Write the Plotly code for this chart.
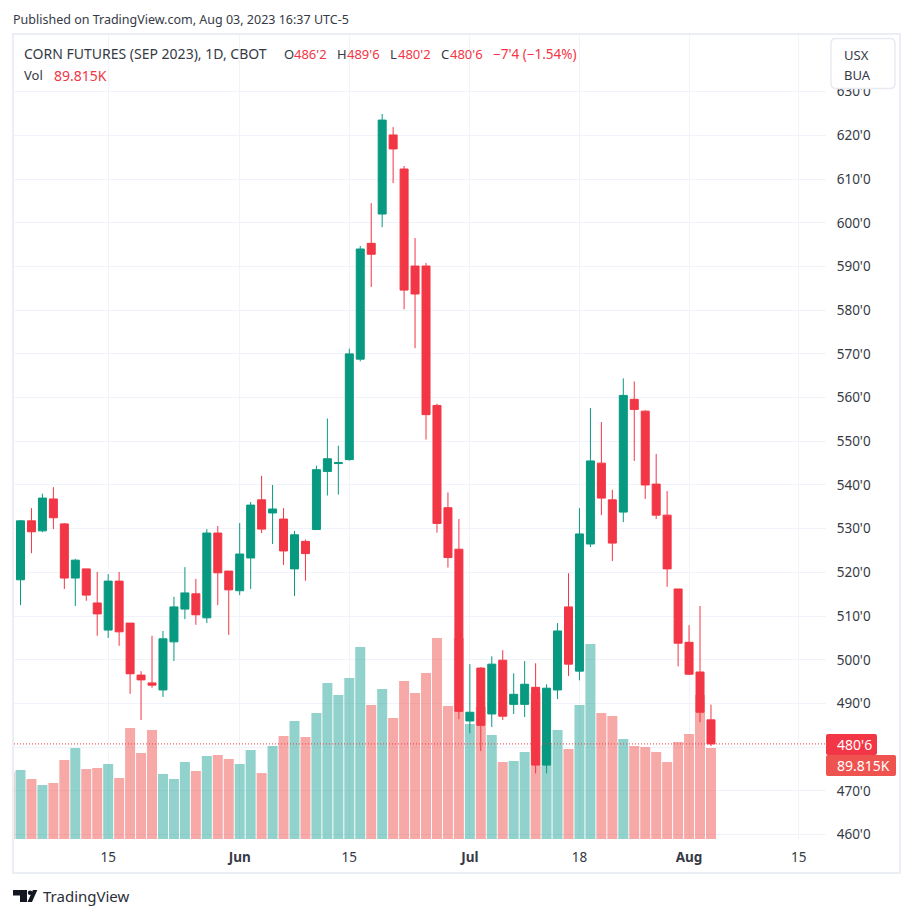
import pandas as pd
import plotly.graph_objects as go

# ---------- data ----------
holidays = ["2023-05-29", "2023-06-19", "2023-07-04"]
axis_days = [d.strftime("%Y-%m-%d") for d in pd.bdate_range("2023-05-02", "2023-08-25")
             if d.strftime("%Y-%m-%d") not in holidays]
sessions = axis_days[1:65]   # May 3 .. Aug 3
clipped_session = axis_days[0]

opens = [518.3,531.8,529.5,536.8,531.1,518.7,520.8,513.0,506.8,518.0,508.4,496.5,494.7,493.1,504.1,511.6,
         515.1,509.6,529.0,520.3,515.8,523.3,536.6,533.6,532.2,520.8,527.1,529.8,543.1,544.9,545.8,568.8,
         595.3,602.0,620.1,612.3,590.1,590.1,558.2,534.8,525.3,486.0,498.1,487.6,499.9,489.8,489.8,493.7,
         475.9,493.1,512.1,497.4,526.5,545.0,536.6,533.8,559.6,556.9,540.2,533.1,516.2,504.0,497.2,486.25]
highs = [532.0,534.7,538.0,539.5,531.3,523.1,520.8,520.1,519.6,520.1,508.4,497.4,505.5,506.6,514.4,521.2,
         518.5,529.9,530.6,520.3,531.3,536.1,542.1,540.0,534.7,529.5,527.5,544.4,555.2,549.0,571.2,594.7,
         604.5,624.9,621.9,613.0,596.5,590.8,558.6,538.3,532.2,499.0,498.3,500.8,502.2,496.9,499.7,499.2,
         494.4,508.4,519.8,534.7,557.6,554.4,538.9,564.4,563.7,557.1,547.1,538.6,516.2,507.9,512.3,489.75]
lows = [512.5,524.4,529.2,529.9,516.2,512.3,513.5,505.5,505.0,503.2,492.2,486.2,493.6,491.5,499.7,509.3,
        508.0,508.4,512.5,505.7,514.8,516.2,529.0,526.5,521.7,514.6,518.1,529.8,537.6,537.8,545.6,568.3,
        585.3,599.0,609.1,580.2,571.3,550.4,529.1,521.1,486.4,483.2,479.1,484.6,486.2,487.6,486.9,474.0,
        474.0,491.0,496.3,495.3,525.8,533.1,522.6,531.5,545.5,536.8,532.2,516.7,498.5,496.5,485.7,480.25]
closes = [531.8,529.3,537.0,532.5,518.7,522.8,514.8,510.5,518.0,506.4,496.8,495.4,494.2,504.8,512.1,515.3,
          510.3,529.0,519.9,516.0,524.2,535.4,529.9,534.5,524.9,528.6,524.3,543.5,546.0,545.1,570.0,594.0,
          592.8,623.5,616.9,584.6,583.7,556.1,531.2,523.4,488.2,488.0,485.0,499.0,487.1,492.1,494.4,475.9,
          493.5,506.6,499.0,528.8,545.5,537.0,526.7,560.5,557.3,540.0,533.1,520.8,503.8,496.7,488.0,480.75]
# thousands of contracts
volume = [68.1,59.2,53.3,55.3,78.0,89.8,69.1,70.1,74.0,60.2,109.6,84.9,107.6,64.2,59.2,76.0,
          67.1,81.9,82.9,79.0,74.0,87.8,65.1,91.8,101.7,116.5,100.7,124.4,154.0,142.1,158.9,189.5,
          132.3,148.0,119.4,155.9,144.1,163.8,198.4,131.3,198.4,113.5,130.3,102.6,76.0,77.0,85.9,144.1,
          92.8,107.6,88.8,132.3,192.5,124.4,121.4,98.7,91.8,90.8,85.9,76.0,95.7,103.6,142.1,89.815]
clipped_volume = 66.0

tick_dates = ["2023-05-15", "2023-06-01", "2023-06-15", "2023-07-03", "2023-07-18", "2023-08-01", "2023-08-15"]
tick_texts = ["15", "<b>Jun</b>", "15", "<b>Jul</b>", "18", "<b>Aug</b>", "15"]
price_ticks = list(range(460, 640, 10))
# the 480 label sits behind the last-price tag in the reference
price_texts = ["" if p == 480 else f"{p}'0" for p in price_ticks]

# ---------- style / layout ----------
W, H = 914, 918
L, R, T, B = 14, 826, 35, 839
UP, DOWN = "#089981", "#F23645"
VOL_UP, VOL_DOWN = "rgba(38,166,154,0.5)", "rgba(239,83,80,0.5)"
GRID = "#F0F3FA"
TEXT = "#131722"
LABEL = "#363A45"
FONT = "Noto Sans"
SPACING = 10.96

def px(x):
    return (x - L) / (R - L)

def py(y):
    return (B - y) / (B - T)

def rrect(x0, y0, x1, y1, r):
    a, b, c, d = px(x0), px(x1), py(y0), py(y1)
    rx, ry = r / (R - L), r / (B - T)
    return (f"M{a+rx},{c} L{b-rx},{c} Q{b},{c} {b},{c-ry} L{b},{d+ry} Q{b},{d} {b-rx},{d} "
            f"L{a+rx},{d} Q{a},{d} {a},{d+ry} L{a},{c-ry} Q{a},{c} {a+rx},{c} Z")

fig = go.Figure()
vol_colors = [VOL_DOWN] + [VOL_UP if c >= o else VOL_DOWN for o, c in zip(opens, closes)]
fig.add_bar(x=[clipped_session] + sessions, y=[clipped_volume] + volume,
            marker=dict(color=vol_colors, line_width=0), yaxis="y", hoverinfo="skip", showlegend=False)
fig.add_candlestick(x=sessions, open=opens, high=highs, low=lows, close=closes, yaxis="y2", showlegend=False,
                    whiskerwidth=0,
                    increasing=dict(line=dict(color=UP, width=1), fillcolor=UP),
                    decreasing=dict(line=dict(color=DOWN, width=1), fillcolor=DOWN))

def note(x, y, text, color=TEXT, size=13, anchor="left", **kw):
    return dict(xref="paper", yref="paper", x=px(x), y=py(y), text=text, showarrow=False, xanchor=anchor,
                yanchor="middle", font=dict(family=FONT, size=size, color=color), borderpad=0, **kw)

notes = [
    note(12, 20, "Published on TradingView.com, Aug 03, 2023 16:37 UTC-5", LABEL, size=12.5),
    note(23, 54, "CORN FUTURES (SEP 2023), 1D, CBOT", LABEL, size=14),
    note(283, 54, "O", LABEL), note(293, 54, "486'2", DOWN),
    note(336, 54, "H", LABEL), note(346, 54, "489'6", DOWN),
    note(389, 54, "L", LABEL), note(397, 54, "480'2", DOWN),
    note(440, 54, "C", LABEL), note(449, 54, "480'6", DOWN),
    note(491.5, 54, "\u22127'4 (\u22121.54%)", DOWN, size=13.5),
    note(23, 75, "Vol", LABEL), note(53, 75, "89.815K", DOWN, size=14),
    note(843, 55, "USX", LABEL), note(843, 75, "BUA", LABEL),
    note(42, 896, "TradingView", "#2A2E39", size=15),
    note(836, 744.5, "480'6", "#FFFFFF", size=14),
    note(836, 765.5, "89.815K", "#FFFFFF", size=14),
]

shapes = [
    dict(type="rect", xref="paper", yref="paper", x0=px(13), x1=px(900), y0=py(34), y1=py(873),
         line=dict(color="#ECEEF5", width=2), layer="below"),
    dict(type="rect", xref="paper", yref="paper", x0=px(R), x1=px(890), y0=py(B), y1=py(B + 4),
         fillcolor="white", line_width=0, layer="above"),
    dict(type="line", xref="paper", yref="y2", x0=0, x1=1, y0=closes[-1], y1=closes[-1],
         line=dict(color=DOWN, width=1, dash="1px,2px"), layer="above"),
    dict(type="path", xref="paper", yref="paper", path=rrect(R, 734, 877, 755, 2), fillcolor=DOWN, line_width=0, layer="above"),
    dict(type="path", xref="paper", yref="paper", path=rrect(R, 755, 896, 776, 2), fillcolor="#EF5350", line_width=0, layer="above"),
    dict(type="path", xref="paper", yref="paper", path=rrect(831, 38.5, 895, 88.5, 5), fillcolor="white",
         line=dict(color="#E8EAF2", width=1.5), layer="above"),
    # TradingView mark
    dict(type="path", xref="paper", yref="paper", fillcolor=TEXT, line_width=0, layer="above",
         path=f"M{px(13)},{py(890)} L{px(27)},{py(890)} L{px(27)},{py(902)} L{px(20)},{py(902)} L{px(20)},{py(895.5)} L{px(13)},{py(895.5)} Z"),
    dict(type="circle", xref="paper", yref="paper", x0=px(27.8), x1=px(32.4), y0=py(895), y1=py(890.4),
         fillcolor=TEXT, line_width=0, layer="above"),
    dict(type="path", xref="paper", yref="paper", fillcolor=TEXT, line_width=0, layer="above",
         path=f"M{px(37.3)},{py(890)} L{px(32.9)},{py(890)} L{px(27.5)},{py(902)} L{px(32)},{py(902)} Z"),
]

tickfont = dict(family=FONT, size=13.5, color=LABEL)
fig.update_layout(
    width=W, height=H, margin=dict(l=L, r=W - R, t=T, b=H - B, pad=0, autoexpand=False),
    paper_bgcolor="white", plot_bgcolor="white", showlegend=False,
    bargap=0.088, boxgap=0.27, boxgroupgap=0,
    font=dict(family=FONT, size=13, color=TEXT), hovermode=False,
    annotations=notes, shapes=shapes,
    xaxis=dict(type="category", categoryorder="array", categoryarray=axis_days,
               range=[1 - 6.5 / SPACING, 1 + (R - 20.5) / SPACING],
               tickmode="array", tickvals=tick_dates, ticktext=tick_texts, tickfont=tickfont,
               showgrid=True, gridcolor=GRID, gridwidth=1, zeroline=False, showline=False,
               ticks="outside", ticklen=6, tickcolor="rgba(0,0,0,0)", rangeslider_visible=False, fixedrange=True),
    yaxis=dict(range=[0, 793.5], visible=False, showgrid=False, zeroline=False, fixedrange=True),
    yaxis2=dict(overlaying="y", side="right", anchor="x", range=[458.99, 642.97],
                tickmode="array", tickvals=price_ticks, ticktext=price_texts, tickfont=tickfont,
                showgrid=True, gridcolor=GRID, gridwidth=1, zeroline=False, showline=False,
                ticks="outside", ticklen=7, tickcolor="rgba(0,0,0,0)", fixedrange=True),
)

fig.write_html("out.html", config=dict(displayModeBar=False),
               post_script="document.body.style.margin='0';document.body.style.overflow='hidden';")
